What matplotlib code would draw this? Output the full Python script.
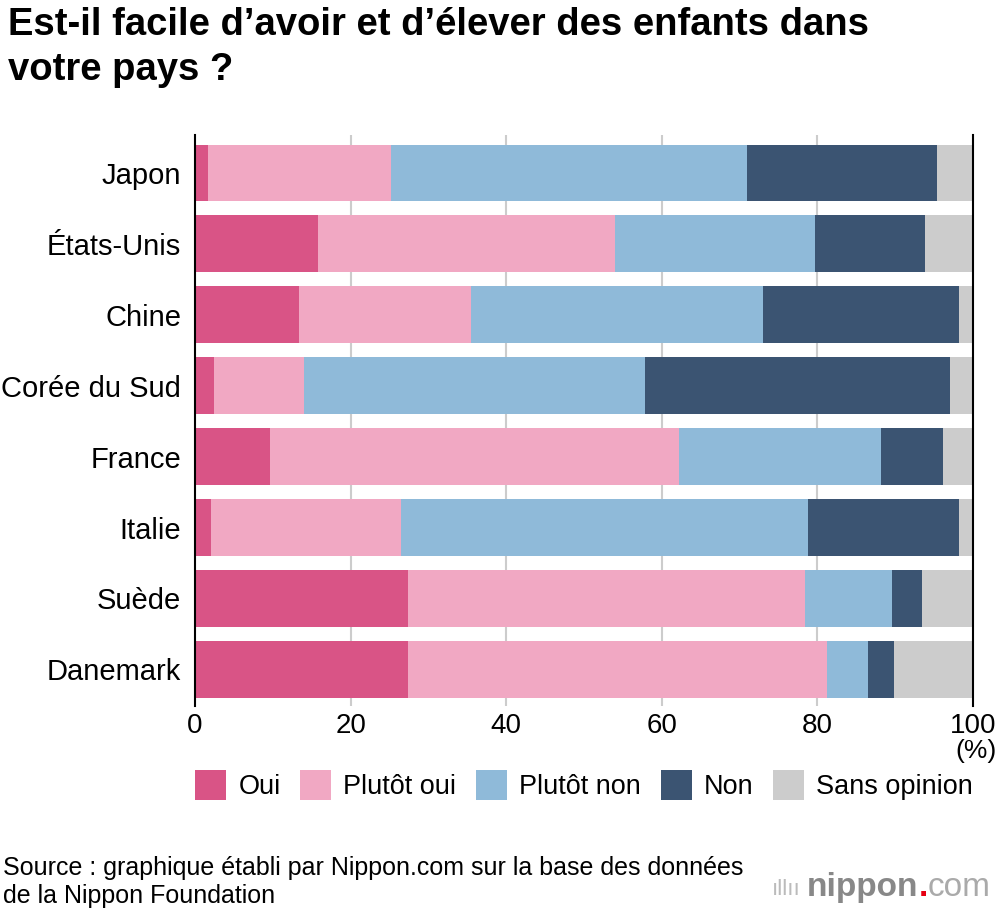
import numpy as np
import matplotlib.pyplot as plt
from matplotlib.patches import Patch

plt.rcParams['font.family'] = ['Liberation Sans', 'DejaVu Sans']

# donnees (%)
pays = ["Japon", "États-Unis", "Chine", "Corée du Sud", "France", "Italie", "Suède", "Danemark"]
oui = [1.7, 15.8, 13.4, 2.4, 9.6, 2.1, 27.4, 27.4]
plutot_oui = [23.5, 38.2, 22.1, 11.6, 52.6, 24.4, 51.0, 53.8]
plutot_non = [45.8, 25.7, 37.5, 43.8, 26.0, 52.3, 11.2, 5.3]
non = [24.4, 14.1, 25.2, 39.2, 7.9, 19.4, 3.8, 3.3]
sans_opinion = [4.6, 6.2, 1.8, 3.0, 3.9, 1.8, 6.6, 10.2]

categories = ["Oui", "Plutôt oui", "Plutôt non", "Non", "Sans opinion"]
couleurs = ["#d95486", "#f1a8c3", "#8fbad9", "#3b5472", "#cccccc"]
series = [oui, plutot_oui, plutot_non, non, sans_opinion]

fig = plt.figure(figsize=(10, 9.16), dpi=100)
ax = fig.add_axes([0.195, 0.229, 0.778, 0.624])

y = np.arange(len(pays))
left = np.zeros(len(pays))
for vals, col in zip(series, couleurs):
    vals = np.array(vals)
    ax.barh(y, vals, left=left, height=0.8, color=col, linewidth=0, zorder=2)
    left = left + vals

ax.set_xlim(0, 100)
ax.set_ylim(len(pays) - 0.5 + 0.02, -0.5 - 0.04)
ax.set_yticks(y)
ax.set_yticklabels(pays, fontsize=21)
ax.set_xticks([0, 20, 40, 60, 80, 100])
ax.tick_params(axis='x', labelsize=20, length=0, pad=5)
ax.tick_params(axis='y', length=0, pad=10)
for g in [20, 40, 60, 80]:
    ax.axvline(g, color="#cccccc", lw=1.5, zorder=1)
for s in ["top", "bottom"]:
    ax.spines[s].set_visible(False)
ax.spines["left"].set_linewidth(1.5)
ax.spines["right"].set_linewidth(1.5)
ax.spines["left"].set_zorder(3)
ax.spines["right"].set_zorder(3)

fig.text(0.997, 0.180, "(%)", fontsize=19, ha="right", va="center")

handles = [Patch(facecolor=c, edgecolor="none") for c in couleurs]
fig.legend(handles, categories, loc="center left", bbox_to_anchor=(0.195, 0.143), ncol=5,
           frameon=False, fontsize=19.5, handlelength=1.15, handleheight=1.3,
           handletextpad=0.45, columnspacing=0.72, borderaxespad=0, borderpad=0)

fig.text(0.008, 0.992, "Est-il facile d’avoir et d’élever des enfants dans\nvotre pays ?",
         fontsize=27.5, fontweight="bold", ha="left", va="top", linespacing=1.3)

fig.text(0.003, 0.037, "Source : graphique établi par Nippon.com sur la base des données\nde la Nippon Foundation",
         fontsize=18, ha="left", va="center", linespacing=1.25)

# logo
fig.canvas.draw()
r = fig.canvas.get_renderer()
x0 = 0.772
t = fig.text(x0, 0.029, "ıllıı", fontsize=16, color="#bbbbbb", ha="left", va="center")
x = x0 + t.get_window_extent(r).width / 1000 + 0.006
for txt, col, w in [("nippon", "#888888", "bold"), (".", "#e60012", "bold"), ("com", "#aaaaaa", "normal")]:
    t = fig.text(x, 0.031, txt, fontsize=24, fontweight=w, color=col, ha="left", va="center")
    x = x + t.get_window_extent(r).width / 1000

fig.savefig("out.png", dpi=100)
